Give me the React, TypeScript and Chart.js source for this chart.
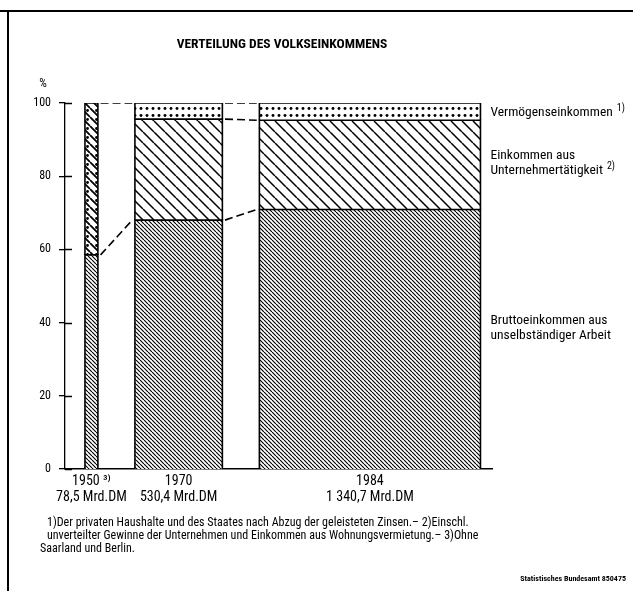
import React, { useEffect, useRef } from "react";
import { Chart, registerables } from "chart.js";

Chart.register(...registerables);

const FONT = '"Roboto Condensed", "DejaVu Sans Condensed", sans-serif';

// ---------- data ----------
const chartTitle = "VERTEILUNG DES VOLKSEINKOMMENS";
const years = ["1950", "1970", "1984"];
const yearNotes = ["³⁾", "", ""];
const totalsMrdDM = [78.5, 530.4, 1340.7];
const totalLabels = ["78,5 Mrd.DM", "530,4 Mrd.DM", "1 340,7 Mrd.DM"];
// shares in % of Volkseinkommen (1950: Unternehmertätigkeit incl. Vermögenseinkommen)
const bruttoShare = [58.5, 68.0, 70.9];
const unternehmerShare = [41.5, 27.6, 24.4];
const vermoegenShare: (number | null)[] = [null, 4.4, 4.7];
const yTickValues = [0, 20, 40, 60, 80, 100];
const seriesLabels = [
  { lines: ["Bruttoeinkommen aus", "unselbständiger Arbeit"], sup: "" },
  { lines: ["Einkommen aus", "Unternehmertätigkeit"], sup: "2)" },
  { lines: ["Vermögenseinkommen"], sup: "1)" },
];
const footnotes = [
  "1)Der privaten Haushalte und des Staates nach Abzug der geleisteten Zinsen.– 2)Einschl.",
  "unverteilter Gewinne der Unternehmen und Einkommen aus Wohnungsvermietung.– 3)Ohne",
  "Saarland und Berlin.",
];
const sourceText = "Statistisches Bundesamt 850475";

// ---------- layout (x scale in Mrd. DM: bar width ∝ total) ----------
const GAP = 224.5;
const LEFT_PAD = 121;
const RIGHT_PAD = 70;

function makePattern(
  ctx: CanvasRenderingContext2D,
  w: number,
  h: number,
  draw: (g: CanvasRenderingContext2D) => void
) {
  const c = document.createElement("canvas");
  c.width = w;
  c.height = h;
  const g = c.getContext("2d")!;
  g.fillStyle = "#fff";
  g.fillRect(0, 0, w, h);
  draw(g);
  return ctx.createPattern(c, "repeat")!;
}

function diag(g: CanvasRenderingContext2D, s: number, lw: number) {
  g.strokeStyle = "#000";
  g.lineWidth = lw;
  g.beginPath();
  for (const k of [-1, 0, 1]) {
    g.moveTo(k * s, 0);
    g.lineTo(k * s + s, s);
  }
  g.stroke();
}

export default function App() {
  const ref = useRef<HTMLCanvasElement>(null);

  useEffect(() => {
    const canvas = ref.current!;
    const ctx = canvas.getContext("2d")!;

    const patBrutto = makePattern(ctx, 4, 4, (g) => diag(g, 4, 1.15));
    const patUntern = makePattern(ctx, 11, 11, (g) => diag(g, 11, 1.5));
    const patVerm = makePattern(ctx, 6, 7, (g) => {
      g.fillStyle = "#000";
      g.beginPath();
      g.arc(3, 3.5, 1.45, 0, Math.PI * 2);
      g.fill();
    });
    const patCombined = makePattern(ctx, 9, 9, (g) => {
      diag(g, 9, 1.8);
      g.fillStyle = "#000";
      g.beginPath();
      g.arc(6.5, 2.5, 1.4, 0, Math.PI * 2);
      g.fill();
    });

    // bar extents in Mrd DM units
    const lefts: number[] = [];
    const rights: number[] = [];
    let cur = LEFT_PAD;
    totalsMrdDM.forEach((t, i) => {
      lefts.push(cur);
      rights.push(cur + t);
      cur += t + (i < totalsMrdDM.length - 1 ? GAP : 0);
    });
    const xMax = cur + RIGHT_PAD;
    const centers = lefts.map((l, i) => (l + rights[i]) / 2);

    const datasets: any[] = [];
    const levels: { brutto: number; untern: number | null; total: number }[] = [];

    years.forEach((_, i) => {
      const L = lefts[i];
      const R = rights[i];
      const segs: { v: number; pat: CanvasPattern }[] = [
        { v: bruttoShare[i], pat: patBrutto },
        {
          v: unternehmerShare[i],
          pat: vermoegenShare[i] == null ? patCombined : patUntern,
        },
      ];
      if (vermoegenShare[i] != null) segs.push({ v: vermoegenShare[i] as number, pat: patVerm });
      let bottom = 0;
      segs.forEach((s) => {
        const top = bottom + s.v;
        datasets.push({
          data: [
            { x: L, y: bottom },
            { x: L, y: top },
            { x: R, y: top },
            { x: R, y: bottom },
          ],
          fill: { value: bottom },
          backgroundColor: s.pat,
          borderColor: "#000",
          borderWidth: 1.6,
          pointRadius: 0,
          tension: 0,
        });
        bottom = top;
      });
      levels.push({
        brutto: bruttoShare[i],
        untern: vermoegenShare[i] != null ? bruttoShare[i] + unternehmerShare[i] : null,
        total: bottom,
      });
    });

    // dashed connectors between bars
    const INSET = 16;
    for (let i = 0; i < years.length - 1; i++) {
      const a = levels[i];
      const b = levels[i + 1];
      const pairs: [number, number][] = [[a.brutto, b.brutto], [a.total, b.total]];
      if (a.untern != null && b.untern != null) pairs.push([a.untern, b.untern]);
      pairs.forEach(([y0, y1]) => {
        datasets.push({
          data: [
            { x: rights[i] + INSET, y: y0 },
            { x: lefts[i + 1] - INSET, y: y1 },
          ],
          fill: false,
          borderColor: "#000",
          borderWidth: 1.6,
          borderDash: [8, 4],
          pointRadius: 0,
          tension: 0,
        });
      });
    }

    const drawSup = (
      c: CanvasRenderingContext2D,
      text: string,
      sup: string,
      x: number,
      y: number,
      font: string,
      supFont: string
    ) => {
      c.font = font;
      c.textAlign = "left";
      c.textBaseline = "middle";
      c.fillText(text, x, y);
      if (sup) {
        const w = c.measureText(text).width;
        c.font = supFont;
        c.fillText(sup, x + w + 4, y - 4);
      }
    };

    const overlay = {
      id: "overlay",
      afterDraw(chart: any) {
        const c: CanvasRenderingContext2D = chart.ctx;
        const xs = chart.scales.x;
        const ys = chart.scales.y;
        const area = chart.chartArea;
        c.save();
        c.fillStyle = "#000";
        c.strokeStyle = "#000";

        // frame
        c.lineWidth = 2;
        c.beginPath();
        c.moveTo(0, 11);
        c.lineTo(633, 11);
        c.moveTo(8, 11);
        c.lineTo(8, 591);
        c.stroke();

        // title
        c.font = `bold 13.5px ${FONT}`;
        c.textAlign = "center";
        c.textBaseline = "middle";
        c.fillText(chartTitle, 282, 45);

        // % unit
        c.font = `12px ${FONT}`;
        c.fillText("%", 43, 84);

        // inner y ticks
        c.lineWidth = 1.3;
        c.beginPath();
        yTickValues.forEach((v) => {
          const py = Math.round(ys.getPixelForValue(v)) + 0.5;
          c.moveTo(area.left, py);
          c.lineTo(area.left + 7, py);
        });
        c.stroke();

        // right-hand series labels (at segment middles of last bar)
        const last = years.length - 1;
        const lx = xs.getPixelForValue(rights[last]) + 10;
        const b = bruttoShare[last];
        const u = unternehmerShare[last];
        const v = vermoegenShare[last] as number;
        const mids = [b / 2, b + u / 2, b + u + v / 2];
        const shifts = [-11, -2, 1];
        const font = `13.5px ${FONT}`;
        const supFont = `10px ${FONT}`;
        seriesLabels.forEach((s, k) => {
          const cy = ys.getPixelForValue(mids[k]) + shifts[k];
          const lh = 15;
          const y0 = cy - ((s.lines.length - 1) * lh) / 2;
          s.lines.forEach((ln, j) => {
            const isLast = j === s.lines.length - 1;
            drawSup(c, ln, isLast ? s.sup : "", lx, y0 + j * lh, font, supFont);
          });
        });

        // footnotes
        c.font = `12px ${FONT}`;
        c.textAlign = "left";
        c.textBaseline = "middle";
        c.fillText(footnotes[0], 47, 523);
        c.fillText(footnotes[1], 47, 536);
        c.fillText(footnotes[2], 40, 549);

        // source
        c.font = `bold 8px ${FONT}`;
        c.textAlign = "right";
        c.fillText(sourceText, 626, 579);
        c.restore();
      },
    };

    const chart = new Chart(ctx, {
      type: "line",
      data: { datasets },
      options: {
        responsive: false,
        animation: false,
        events: [],
        layout: { padding: { left: 20, right: 141, top: 103, bottom: 82 } },
        plugins: {
          legend: { display: false },
          tooltip: { enabled: false },
          title: { display: false },
        },
        scales: {
          x: {
            type: "linear",
            min: 0,
            max: xMax,
            afterBuildTicks: (s: any) => {
              s.ticks = centers.map((c) => ({ value: c }));
            },
            afterFit: (s: any) => {
              s.height = 40;
            },
            ticks: {
              autoSkip: false,
              maxRotation: 0,
              padding: 5,
              color: "#000",
              font: { family: FONT, size: 14, lineHeight: 1.1 },
              callback: (_v: any, i: number) => [
                years[i] + (yearNotes[i] ? " " + yearNotes[i] : ""),
                totalLabels[i],
              ],
            },
            grid: { display: false, drawTicks: false },
            border: { display: true, color: "#000", width: 1.6 },
          },
          y: {
            type: "linear",
            min: 0,
            max: 100,
            afterBuildTicks: (s: any) => {
              s.ticks = yTickValues.map((v) => ({ value: v }));
            },
            afterFit: (s: any) => {
              s.width = 45;
            },
            ticks: {
              padding: 8,
              color: "#000",
              font: { family: FONT, size: 12 },
            },
            grid: {
              drawOnChartArea: false,
              drawTicks: true,
              tickLength: 6,
              color: "#000",
              lineWidth: 1.3,
            },
            border: { display: true, color: "#000", width: 1.3 },
          },
        },
      },
      plugins: [overlay],
    } as any);

    return () => chart.destroy();
  }, []);

  return (
    <div
      style={{
        position: "absolute",
        left: 0,
        top: 0,
        width: 633,
        height: 591,
        background: "#fff",
      }}
    >
      <canvas ref={ref} width={633} height={591} style={{ display: "block", width: 633, height: 591 }} />
    </div>
  );
}
